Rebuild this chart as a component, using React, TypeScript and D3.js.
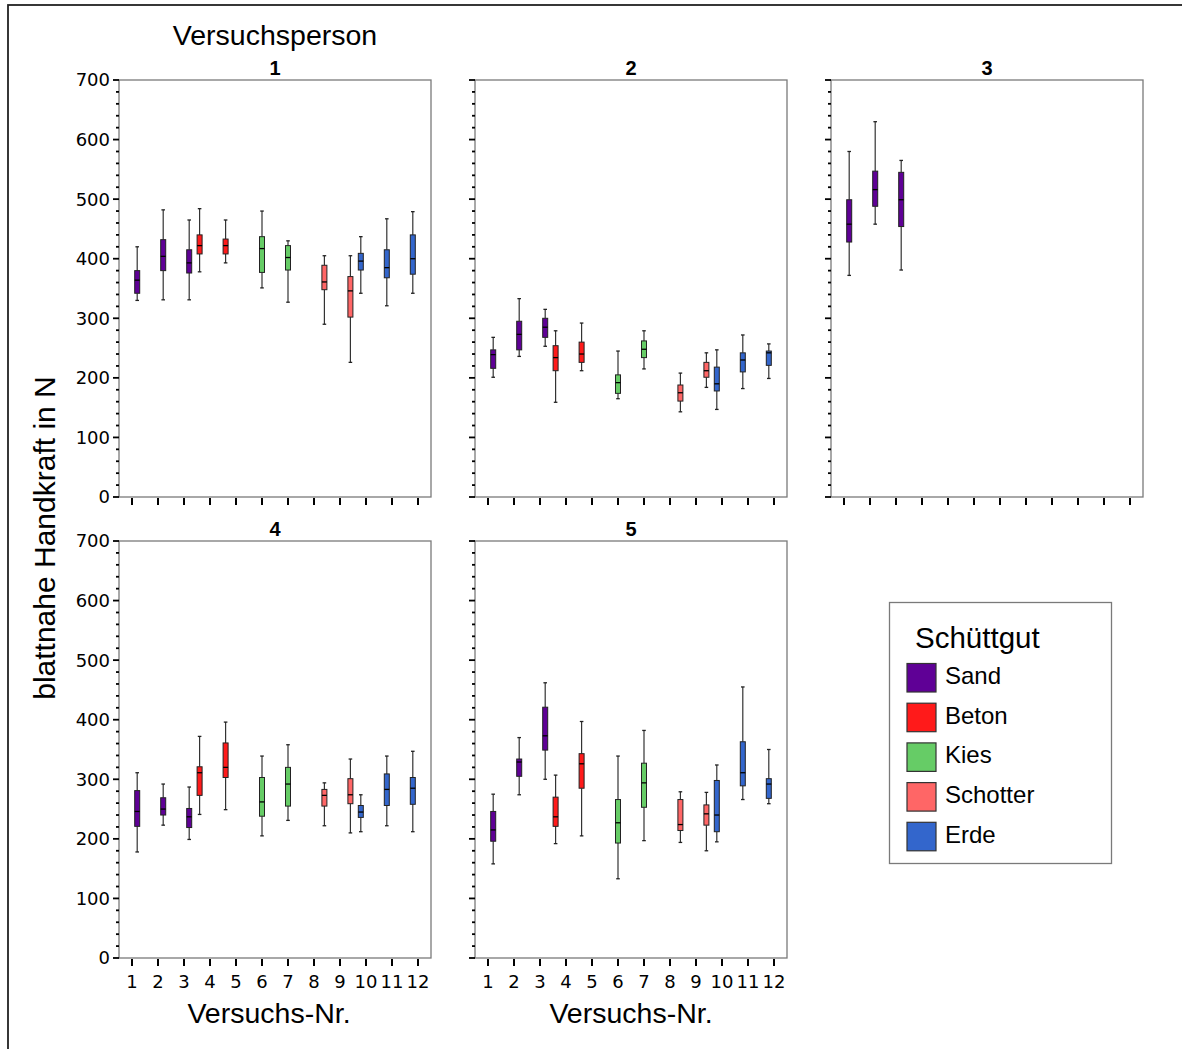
import React from "react";
import * as d3 from "d3";

// ---- data ----
const versuchsNr = ["1", "2", "3", "4", "5", "6", "7", "8", "9", "10", "11", "12"];
const schuettgut = ["Sand", "Beton", "Kies", "Schotter", "Erde"];
const schuettgutColors = ["#5f0096", "#ff1a1a", "#66cc66", "#ff6666", "#3366cc"];
// material used in each Versuchs-Nr.
const trialMaterial = ["Sand", "Sand", "Sand", "Beton", "Beton", "Kies", "Kies", "Schotter", "Schotter", "Erde", "Erde", "Erde"];
// five-number summaries per trial: [min, q1, median, q3, max]
const vp1 = [
  [330, 342, 364, 380, 420],
  [331, 380, 404, 432, 482],
  [331, 376, 393, 415, 465],
  [378, 408, 422, 440, 484],
  [393, 408, 422, 433, 465],
  [351, 377, 417, 437, 480],
  [327, 381, 402, 422, 430],
  [290, 348, 361, 389, 405],
  [226, 302, 346, 370, 405],
  [342, 381, 396, 409, 437],
  [321, 368, 385, 415, 467],
  [342, 374, 400, 440, 479],
];
const vp2 = [
  [201, 216, 239, 247, 268],
  [236, 247, 273, 295, 333],
  [253, 268, 285, 300, 315],
  [159, 212, 234, 254, 279],
  [212, 226, 240, 260, 292],
  [165, 174, 192, 205, 245],
  [215, 234, 248, 262, 279],
  [143, 161, 175, 188, 208],
  [184, 201, 212, 226, 242],
  [147, 178, 190, 218, 247],
  [182, 210, 230, 242, 272],
  [199, 221, 242, 245, 257],
];
const vp3 = [
  [372, 428, 458, 499, 580],
  [458, 488, 516, 547, 630],
  [381, 454, 499, 545, 565],
];
const vp4 = [
  [178, 221, 246, 281, 311],
  [223, 240, 250, 269, 292],
  [199, 219, 237, 251, 287],
  [241, 273, 311, 321, 372],
  [249, 303, 320, 361, 396],
  [205, 238, 262, 303, 339],
  [231, 255, 292, 320, 358],
  [222, 255, 273, 283, 294],
  [210, 259, 274, 301, 334],
  [212, 236, 245, 256, 274],
  [222, 256, 283, 309, 339],
  [212, 258, 285, 303, 347],
];
const vp5 = [
  [158, 196, 215, 246, 275],
  [274, 305, 329, 334, 370],
  [300, 349, 373, 421, 462],
  [192, 221, 237, 270, 307],
  [205, 285, 326, 343, 397],
  [133, 193, 227, 266, 339],
  [197, 253, 294, 327, 382],
  [194, 214, 224, 266, 279],
  [180, 223, 242, 257, 278],
  [195, 212, 240, 298, 324],
  [266, 289, 311, 363, 455],
  [259, 268, 292, 301, 350],
];
const personen = ["1", "2", "3", "4", "5"];
const personData = [vp1, vp2, vp3, vp4, vp5];
const yTicks = [0, 100, 200, 300, 400, 500, 600, 700];

const FONT = "'Liberation Sans', Arial, sans-serif";
const TICKFONT = "'DejaVu Sans', Verdana, sans-serif";

const W = 1182;
const H = 1049;
const panelW = 312;
const panelH = 417;
const colStep = 356;
const rowStep = 461;
const left0 = 119;
const top0 = 80;

const colorScale = d3.scaleOrdinal<string, string>().domain(schuettgut).range(schuettgutColors);
// cluster slot order (alphabetical, as in the original)
const clusterOrder = [...schuettgut].sort();

function Panel({ idx }: { idx: number }) {
  const col = idx % 3;
  const row = Math.floor(idx / 3);
  const x0 = left0 + col * colStep;
  const y0 = top0 + row * rowStep;
  const x = d3.scaleBand<string>().domain(versuchsNr).range([x0, x0 + panelW]).padding(0);
  const inner = d3.scaleBand<string>().domain(clusterOrder).range([0, x.bandwidth()]).padding(0);
  const y = d3.scaleLinear().domain([0, 700]).range([y0 + panelH, y0]);
  const minor = d3.range(0, 701, 20).filter((v) => v % 100 !== 0);
  const data = personData[idx];
  const showYLabels = col === 0;
  const showXLabels = row === 1;
  const bw = 5;
  return (
    <g>
      <text x={x0 + panelW / 2} y={y0 - 5} textAnchor="middle" fontFamily={FONT} fontWeight="bold" fontSize={20}>
        {personen[idx]}
      </text>
      <rect x={x0} y={y0} width={panelW} height={panelH} fill="#fff" stroke="#7a7a7a" strokeWidth={1.3} />
      {/* y ticks */}
      {yTicks.map((t) => (
        <g key={"yt" + t}>
          <line x1={x0 - 6} x2={x0} y1={y(t)} y2={y(t)} stroke="#000" strokeWidth={1.8} />
          {showYLabels && (
            <text x={x0 - 9} y={y(t)} dy="0.36em" textAnchor="end" fontFamily={TICKFONT} fontSize={18}>
              {t}
            </text>
          )}
        </g>
      ))}
      {minor.map((t) => (
        <line key={"ym" + t} x1={x0 - 3} x2={x0} y1={y(t)} y2={y(t)} stroke="#000" strokeWidth={1.8} />
      ))}
      {/* x ticks */}
      {versuchsNr.map((v) => {
        const cx = (x(v) as number) + x.bandwidth() / 2;
        return (
          <g key={"xt" + v}>
            <line x1={cx} x2={cx} y1={y0 + panelH + 1} y2={y0 + panelH + 8} stroke="#000" strokeWidth={2} />
            {showXLabels && (
              <text x={cx} y={y0 + panelH + 30} textAnchor="middle" fontFamily={TICKFONT} fontSize={18}>
                {v}
              </text>
            )}
          </g>
        );
      })}
      {showXLabels && (
        <text
          x={x0 + panelW / 2 - (col === 0 ? 6 : 0)}
          y={y0 + panelH + 65}
          textAnchor="middle"
          fontFamily={FONT}
          fontSize={28.5}
        >
          Versuchs-Nr.
        </text>
      )}
      {/* boxes */}
      {data.map((s, i) => {
        const v = versuchsNr[i];
        const m = trialMaterial[i];
        const cx = (x(v) as number) + (inner(m) as number) + inner.bandwidth() / 2;
        const [mn, q1, md, q3, mx] = s;
        return (
          <g key={"b" + i}>
            <line x1={cx} x2={cx} y1={y(mx)} y2={y(q3)} stroke="#333" strokeWidth={1.2} />
            <line x1={cx} x2={cx} y1={y(q1)} y2={y(mn)} stroke="#333" strokeWidth={1.2} />
            <line x1={cx - 1.8} x2={cx + 1.8} y1={y(mx)} y2={y(mx)} stroke="#222" strokeWidth={1.3} />
            <line x1={cx - 1.8} x2={cx + 1.8} y1={y(mn)} y2={y(mn)} stroke="#222" strokeWidth={1.3} />
            <rect
              x={cx - bw / 2}
              y={y(q3)}
              width={bw}
              height={y(q1) - y(q3)}
              fill={colorScale(m)}
              stroke="#222"
              strokeWidth={1}
            />
            <line x1={cx - bw / 2} x2={cx + bw / 2} y1={y(md)} y2={y(md)} stroke="#000" strokeWidth={1.3} />
          </g>
        );
      })}
    </g>
  );
}

function Legend() {
  const lx = 889.5;
  const ly = 602.5;
  const step = 39.7;
  return (
    <g>
      <rect x={lx} y={ly} width={222} height={261} fill="#fff" stroke="#7a7a7a" strokeWidth={1.3} />
      <text x={915} y={648} fontFamily={FONT} fontSize={29.5}>
        Schüttgut
      </text>
      {schuettgut.map((s, i) => {
        const yy = 663.5 + i * step;
        return (
          <g key={s}>
            <rect x={907} y={yy} width={29} height={28.5} fill={colorScale(s)} stroke="#333" strokeWidth={1.2} />
            <text x={945} y={yy + 20.5} fontFamily={FONT} fontSize={24}>
              {s}
            </text>
          </g>
        );
      })}
    </g>
  );
}

export default function App() {
  return (
    <div style={{ position: "absolute", left: 0, top: 0, width: W, height: H, background: "#fff" }}>
      <svg width={W} height={H} style={{ display: "block" }}>
        <rect x={0} y={0} width={W} height={H} fill="#fff" />
        <rect x={8} y={5} width={W + 20} height={H + 20} fill="none" stroke="#222" strokeWidth={1.8} />
        <text x={275} y={45} textAnchor="middle" fontFamily={FONT} fontSize={28.5}>
          Versuchsperson
        </text>
        <text
          transform={`translate(55, 538) rotate(-90)`}
          textAnchor="middle"
          fontFamily={FONT}
          fontSize={30}
        >
          blattnahe Handkraft in N
        </text>
        {personen.map((p, i) => (
          <Panel key={p} idx={i} />
        ))}
        <Legend />
      </svg>
    </div>
  );
}
